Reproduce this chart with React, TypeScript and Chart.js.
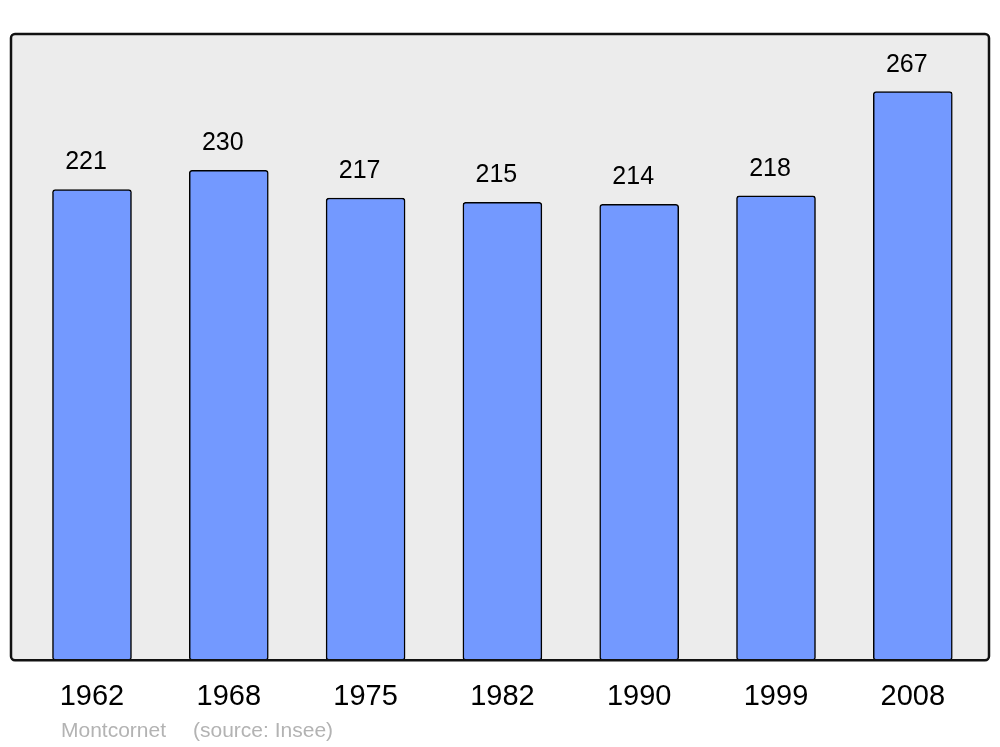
import React, { useEffect, useRef } from "react";
import { Chart, registerables } from "chart.js";

Chart.register(...registerables);

const years = ["1962", "1968", "1975", "1982", "1990", "1999", "2008"];
const population = [221, 230, 217, 215, 214, 218, 267];
const sourceName = "Montcornet";
const sourceNote = "(source: Insee)";

const FONT = "'Liberation Sans', Arial, sans-serif";

const framePlugin = {
  id: "frame",
  beforeDatasetsDraw(chart: any) {
    const { ctx, chartArea: a } = chart;
    ctx.save();
    ctx.beginPath();
    ctx.roundRect(a.left, a.top, a.right - a.left, a.bottom - a.top, 4);
    ctx.fillStyle = "#ececec";
    ctx.fill();
    ctx.restore();
  },
  afterDatasetsDraw(chart: any) {
    const { ctx, chartArea: a } = chart;
    ctx.save();
    ctx.beginPath();
    ctx.roundRect(a.left, a.top, a.right - a.left, a.bottom - a.top, 4);
    ctx.lineWidth = 2.5;
    ctx.strokeStyle = "#111111";
    ctx.stroke();
    // value labels
    const meta = chart.getDatasetMeta(0);
    ctx.font = `25px ${FONT}`;
    ctx.fillStyle = "#000000";
    ctx.textAlign = "center";
    ctx.textBaseline = "alphabetic";
    meta.data.forEach((bar: any, i: number) => {
      ctx.fillText(String(population[i]), bar.x - 6, bar.y - 20);
    });
    // source
    ctx.font = `21px ${FONT}`;
    ctx.fillStyle = "#b3b3b3";
    ctx.textAlign = "left";
    ctx.fillText(sourceName, 61, 737);
    ctx.fillText(sourceNote, 193, 737);
    ctx.restore();
  },
};

export default function App() {
  const ref = useRef<HTMLCanvasElement>(null);
  useEffect(() => {
    document.body.style.margin = "0";
    const chart = new Chart(ref.current!, {
      type: "bar",
      data: {
        datasets: [
          {
            data: population.map((v, i) => ({ x: i, y: v })),
            backgroundColor: "#7399ff",
            borderColor: "#000000",
            borderWidth: 1.5,
            borderRadius: 3,
            borderSkipped: false,
            barThickness: 79,
          },
        ],
      },
      options: {
        responsive: false,
        animation: false,
        layout: { padding: { left: 11, right: 11, top: 34, bottom: 22 } },
        plugins: { legend: { display: false }, tooltip: { enabled: false } },
        scales: {
          x: {
            type: "linear",
            offset: false,
            min: -0.592,
            max: 6.557,
            grid: { display: false },
            border: { display: false },
            afterBuildTicks(scale: any) {
              scale.ticks = years.map((_, i) => ({ value: i }));
            },
            ticks: {
              autoSkip: false,
              maxRotation: 0,
              padding: 11,
              color: "#000000",
              font: { family: FONT, size: 29 },
              callback: (v: any) => years[v] ?? "",
            },
          },
          y: {
            display: false,
            min: 0,
            max: 294,
          },
        },
      },
      plugins: [framePlugin],
    });
    return () => chart.destroy();
  }, []);
  return (
    <div style={{ position: "absolute", left: 0, top: 0, width: 1000, height: 747, background: "#ffffff" }}>
      <canvas ref={ref} width={1000} height={747} />
    </div>
  );
}
